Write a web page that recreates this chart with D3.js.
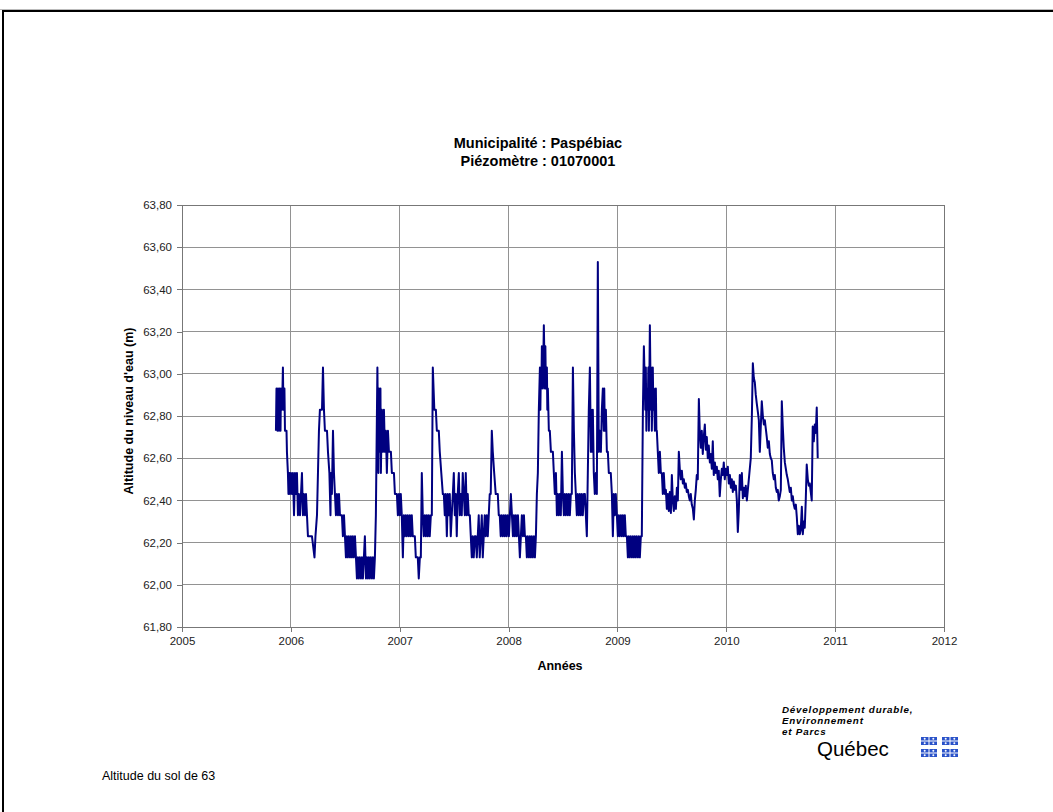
<!DOCTYPE html>
<html>
<head>
<meta charset="utf-8">
<script src="https://cdn.jsdelivr.net/npm/d3@7"></script>
<style>
  body { margin: 0; background: #fff; }
  svg text { font-family: "Liberation Sans", Arial, sans-serif; }
</style>
</head>
<body>
<div id="fig"></div>
<script>
// titles and labels
var titre1 = "Municipalité : Paspébiac";
var titre2 = "Piézomètre : 01070001";
var titreX = "Années";
var titreY = "Altitude du niveau d'eau (m)";
var noteSol = "Altitude du sol de 63";
var ministere = ["Développement durable,", "Environnement", "et Parcs"];

var anneesTicks = [2005, 2006, 2007, 2008, 2009, 2010, 2011, 2012];
var niveauxTicks = [61.8, 62.0, 62.2, 62.4, 62.6, 62.8, 63.0, 63.2, 63.4, 63.6, 63.8];

// water level readings [decimal year, altitude m]
var serie2005 = [[2005.863,62.73],[2005.868,62.93],[2005.877,62.73],[2005.882,62.93],[2005.891,62.73],[2005.895,62.93],
  [2005.905,62.73],[2005.909,62.93],[2005.918,62.83],[2005.923,62.93],[2005.927,63.03],[2005.932,62.83],[2005.941,62.93],
  [2005.946,62.73],[2005.960,62.73],[2005.964,62.63],[2005.973,62.53],[2005.978,62.43],[2005.987,62.53],[2005.992,62.43]];

var serie2006 = [[2006.001,62.53],[2006.010,62.43],[2006.019,62.53],[2006.029,62.33],[2006.038,62.53],[2006.047,62.43],
  [2006.056,62.53],[2006.065,62.33],[2006.074,62.43],[2006.084,62.33],[2006.093,62.43],[2006.102,62.53],[2006.111,62.33],
  [2006.120,62.43],[2006.130,62.33],[2006.139,62.43],[2006.148,62.33],[2006.157,62.23],[2006.194,62.23],[2006.217,62.13],
  [2006.226,62.23],[2006.240,62.33],[2006.249,62.53],[2006.258,62.73],[2006.267,62.83],[2006.286,62.83],[2006.295,63.03],
  [2006.304,62.83],[2006.313,62.73],[2006.332,62.73],[2006.341,62.63],[2006.354,62.53],[2006.364,62.33],[2006.368,62.53],
  [2006.377,62.43],[2006.387,62.73],[2006.396,62.53],[2006.405,62.43],[2006.414,62.33],[2006.423,62.43],[2006.433,62.33],
  [2006.442,62.43],[2006.451,62.33],[2006.469,62.33],[2006.478,62.23],[2006.488,62.33],[2006.497,62.23],[2006.506,62.13],
  [2006.515,62.23],[2006.524,62.13],[2006.533,62.23],[2006.543,62.13],[2006.552,62.23],[2006.561,62.13],[2006.570,62.23],
  [2006.579,62.13],[2006.589,62.23],[2006.598,62.13],[2006.607,62.03],[2006.616,62.13],[2006.625,62.03],[2006.634,62.13],
  [2006.644,62.03],[2006.653,62.13],[2006.662,62.03],[2006.671,62.13],[2006.680,62.23],[2006.690,62.03],[2006.699,62.13],
  [2006.708,62.03],[2006.717,62.13],[2006.726,62.03],[2006.735,62.13],[2006.745,62.03],[2006.754,62.13],[2006.763,62.03],
  [2006.772,62.13],[2006.781,62.33],[2006.795,63.03],[2006.804,62.53],[2006.809,62.93],[2006.818,62.63],[2006.823,62.93],
  [2006.827,62.53],[2006.836,62.83],[2006.846,62.63],[2006.855,62.83],[2006.864,62.63],[2006.873,62.73],[2006.882,62.53],
  [2006.892,62.73],[2006.901,62.63],[2006.919,62.63],[2006.928,62.53],[2006.947,62.53],[2006.956,62.43],[2006.974,62.43],
  [2006.983,62.33],[2006.993,62.43]];

var serie2007 = [[2007.001,62.33],[2007.010,62.43],[2007.019,62.33],[2007.029,62.13],[2007.038,62.33],[2007.047,62.23],
  [2007.056,62.33],[2007.065,62.23],[2007.074,62.33],[2007.084,62.23],[2007.093,62.33],[2007.102,62.23],[2007.111,62.33],
  [2007.120,62.23],[2007.139,62.23],[2007.148,62.13],[2007.166,62.13],[2007.175,62.03],[2007.185,62.13],[2007.194,62.13],
  [2007.203,62.53],[2007.212,62.33],[2007.221,62.23],[2007.231,62.33],[2007.240,62.23],[2007.249,62.33],[2007.258,62.23],
  [2007.267,62.33],[2007.276,62.23],[2007.286,62.33],[2007.295,62.33],[2007.304,63.03],[2007.318,62.83],[2007.332,62.83],
  [2007.341,62.73],[2007.359,62.73],[2007.368,62.63],[2007.382,62.53],[2007.396,62.43],[2007.405,62.43],[2007.414,62.33],
  [2007.423,62.43],[2007.433,62.23],[2007.442,62.43],[2007.451,62.33],[2007.460,62.43],[2007.469,62.23],[2007.478,62.33],
  [2007.488,62.43],[2007.497,62.53],[2007.506,62.33],[2007.515,62.43],[2007.524,62.23],[2007.533,62.43],[2007.543,62.53],
  [2007.552,62.33],[2007.561,62.43],[2007.570,62.33],[2007.579,62.53],[2007.589,62.43],[2007.598,62.33],[2007.607,62.53],
  [2007.616,62.33],[2007.625,62.43],[2007.634,62.33],[2007.644,62.33],[2007.653,62.23],[2007.662,62.13],[2007.671,62.23],
  [2007.680,62.13],[2007.690,62.23],[2007.699,62.23],[2007.708,62.13],[2007.717,62.23],[2007.726,62.33],[2007.735,62.13],
  [2007.745,62.23],[2007.754,62.33],[2007.763,62.13],[2007.772,62.23],[2007.781,62.33],[2007.790,62.23],[2007.800,62.33],
  [2007.809,62.23],[2007.818,62.33],[2007.827,62.43],[2007.836,62.43],[2007.846,62.73],[2007.855,62.63],[2007.868,62.53],
  [2007.882,62.43],[2007.901,62.43],[2007.910,62.33],[2007.919,62.33],[2007.928,62.23],[2007.937,62.33],[2007.947,62.23],
  [2007.956,62.33],[2007.965,62.23],[2007.974,62.33],[2007.983,62.23],[2007.993,62.33]];

var serie2008 = [[2008.003,62.23],[2008.012,62.33],[2008.021,62.43],[2008.031,62.33],[2008.040,62.23],[2008.049,62.33],
  [2008.058,62.23],[2008.067,62.33],[2008.076,62.23],[2008.086,62.33],[2008.095,62.23],[2008.104,62.13],[2008.113,62.23],
  [2008.122,62.33],[2008.132,62.23],[2008.141,62.33],[2008.150,62.23],[2008.159,62.23],[2008.168,62.13],[2008.177,62.23],
  [2008.187,62.13],[2008.196,62.23],[2008.205,62.13],[2008.214,62.23],[2008.223,62.13],[2008.233,62.23],[2008.242,62.13],
  [2008.251,62.23],[2008.260,62.43],[2008.269,62.53],[2008.278,62.83],[2008.288,63.03],[2008.292,62.83],[2008.297,63.03],
  [2008.301,62.93],[2008.306,63.13],[2008.315,62.93],[2008.324,63.23],[2008.334,62.93],[2008.338,63.13],[2008.343,62.93],
  [2008.352,63.03],[2008.356,62.83],[2008.361,62.93],[2008.370,62.73],[2008.379,62.73],[2008.389,62.63],[2008.407,62.63],
  [2008.416,62.53],[2008.425,62.43],[2008.435,62.53],[2008.444,62.33],[2008.453,62.43],[2008.462,62.33],[2008.471,62.43],
  [2008.480,62.33],[2008.490,62.63],[2008.499,62.43],[2008.508,62.33],[2008.517,62.43],[2008.526,62.33],[2008.535,62.43],
  [2008.545,62.33],[2008.554,62.43],[2008.563,62.33],[2008.572,62.43],[2008.581,62.43],[2008.591,63.03],[2008.600,62.73],
  [2008.609,62.53],[2008.618,62.43],[2008.627,62.33],[2008.636,62.43],[2008.646,62.33],[2008.655,62.43],[2008.664,62.33],
  [2008.673,62.43],[2008.682,62.33],[2008.692,62.43],[2008.701,62.43],[2008.710,62.33],[2008.719,62.23],[2008.728,62.53],
  [2008.737,62.83],[2008.747,63.03],[2008.756,62.63],[2008.760,62.83],[2008.765,62.63],[2008.774,62.83],[2008.783,62.53],
  [2008.792,62.43],[2008.802,62.53],[2008.811,62.43],[2008.820,63.53],[2008.829,62.63],[2008.838,62.73],[2008.848,62.63],
  [2008.857,62.83],[2008.866,62.93],[2008.875,62.73],[2008.879,62.93],[2008.884,62.73],[2008.894,62.83],[2008.903,62.63],
  [2008.912,62.63],[2008.921,62.53],[2008.939,62.53],[2008.949,62.43],[2008.958,62.23],[2008.967,62.43],[2008.976,62.33],
  [2008.985,62.43],[2008.995,62.33]];

var serie2009 = [[2009.004,62.23],[2009.013,62.33],[2009.022,62.23],[2009.032,62.33],[2009.041,62.23],[2009.050,62.33],
  [2009.059,62.23],[2009.068,62.33],[2009.077,62.23],[2009.087,62.23],[2009.096,62.13],[2009.105,62.23],[2009.114,62.13],
  [2009.123,62.23],[2009.133,62.13],[2009.142,62.23],[2009.151,62.13],[2009.160,62.23],[2009.169,62.13],[2009.178,62.23],
  [2009.188,62.13],[2009.197,62.23],[2009.206,62.13],[2009.215,62.23],[2009.224,62.23],[2009.234,62.83],[2009.243,63.13],
  [2009.252,62.93],[2009.256,62.83],[2009.261,63.03],[2009.266,62.73],[2009.270,62.93],[2009.279,62.83],[2009.284,63.03],
  [2009.289,62.73],[2009.298,63.23],[2009.307,62.83],[2009.311,63.03],[2009.316,62.73],[2009.325,63.03],[2009.330,62.83],
  [2009.335,62.93],[2009.344,62.73],[2009.353,62.93],[2009.358,62.73],[2009.362,62.73],[2009.371,62.63],[2009.380,62.53],
  [2009.390,62.63],[2009.399,62.53],[2009.408,62.53],[2009.417,62.43],[2009.426,62.53],[2009.436,62.43],[2009.445,62.45],
  [2009.454,62.36],[2009.463,62.43],[2009.472,62.35],[2009.481,62.44],[2009.491,62.34],[2009.500,62.52],[2009.509,62.40],
  [2009.518,62.35],[2009.527,62.42],[2009.537,62.36],[2009.546,62.46],[2009.555,62.40],[2009.564,62.63],[2009.573,62.55],
  [2009.582,62.50],[2009.592,62.54],[2009.601,62.48],[2009.610,62.50],[2009.619,62.46],[2009.628,62.48],[2009.637,62.44],
  [2009.647,62.45],[2009.656,62.42],[2009.665,62.40],[2009.674,62.43],[2009.683,62.38],[2009.693,62.36],[2009.702,62.31],
  [2009.711,62.40],[2009.720,62.45],[2009.729,62.52],[2009.738,62.50],[2009.748,62.88],[2009.757,62.72],[2009.766,62.65],
  [2009.775,62.73],[2009.784,62.62],[2009.793,62.70],[2009.803,62.76],[2009.812,62.64],[2009.821,62.70],[2009.830,62.60],
  [2009.839,62.66],[2009.849,62.58],[2009.858,62.62],[2009.867,62.55],[2009.876,62.68],[2009.885,62.52],[2009.895,62.58],
  [2009.904,62.53],[2009.913,62.56],[2009.922,62.50],[2009.931,62.54],[2009.940,62.42],[2009.950,62.50],[2009.959,62.55],
  [2009.968,62.52],[2009.977,62.58],[2009.986,62.50],[2009.996,62.55]];

var serie2010 = [[2010.005,62.52],[2010.014,62.56],[2010.023,62.48],[2010.033,62.52],[2010.042,62.46],[2010.051,62.50],
  [2010.060,62.44],[2010.069,62.49],[2010.078,62.45],[2010.088,62.47],[2010.097,62.40],[2010.106,62.25],[2010.115,62.35],
  [2010.124,62.52],[2010.134,62.45],[2010.143,62.53],[2010.152,62.41],[2010.161,62.46],[2010.170,62.42],[2010.179,62.47],
  [2010.189,62.40],[2010.198,62.45],[2010.207,62.50],[2010.216,62.55],[2010.225,62.60],[2010.235,62.80],[2010.244,63.05],
  [2010.253,62.98],[2010.262,62.96],[2010.271,62.90],[2010.280,62.86],[2010.290,62.82],[2010.299,62.78],[2010.308,62.63],
  [2010.317,62.75],[2010.326,62.87],[2010.336,62.80],[2010.345,62.76],[2010.354,62.78],[2010.363,62.74],[2010.372,62.70],
  [2010.381,62.65],[2010.391,62.68],[2010.400,62.62],[2010.409,62.60],[2010.418,62.59],[2010.427,62.53],[2010.437,62.50],
  [2010.446,62.52],[2010.455,62.46],[2010.464,62.44],[2010.473,62.45],[2010.482,62.40],[2010.492,62.42],[2010.501,62.45],
  [2010.510,62.87],[2010.519,62.75],[2010.528,62.65],[2010.538,62.58],[2010.547,62.55],[2010.556,62.52],[2010.565,62.50],
  [2010.574,62.47],[2010.583,62.44],[2010.593,62.46],[2010.602,62.40],[2010.611,62.42],[2010.620,62.38],[2010.629,62.36],
  [2010.639,62.38],[2010.648,62.32],[2010.657,62.24],[2010.666,62.28],[2010.675,62.24],[2010.684,62.26],[2010.694,62.37],
  [2010.703,62.24],[2010.712,62.30],[2010.721,62.27],[2010.730,62.40],[2010.739,62.57],[2010.749,62.50],[2010.758,62.47],
  [2010.767,62.48],[2010.776,62.44],[2010.785,62.40],[2010.794,62.75],[2010.804,62.68],[2010.813,62.76],[2010.822,62.72],
  [2010.831,62.84],[2010.840,62.60]];

var mesures = [].concat(serie2005, serie2006, serie2007, serie2008, serie2009, serie2010);

// set the dimensions and margins of the graph
var margin = { top: 205, right: 109, bottom: 185, left: 182 },
    width = 944 - margin.left,
    height = 627 - margin.top;

var svg = d3.select("#fig")
  .append("svg")
  .attr("width", 1053)
  .attr("height", 812);

// page frame
svg.append("line")
  .attr("x1", 0).attr("x2", 1053)
  .attr("y1", 9.5).attr("y2", 9.5)
  .attr("stroke", "#bbb");

svg.append("rect")
  .attr("x", 3)
  .attr("y", 11)
  .attr("width", 1070)
  .attr("height", 820)
  .attr("fill", "none")
  .attr("stroke", "#000")
  .attr("stroke-width", 2);

var g = svg.append("g")
  .attr("transform", "translate(" + margin.left + "," + margin.top + ")");

var x = d3.scaleLinear()
  .domain([2005, 2012])
  .range([0, width]);

var y = d3.scaleLinear()
  .domain([61.8, 63.8])
  .range([height, 0]);

var fr = d3.formatLocale({ decimal: ",", thousands: " ", grouping: [3], currency: ["", " $"] });

// grid lines
g.append("g")
  .selectAll("line")
  .data(niveauxTicks)
  .enter()
  .append("line")
    .attr("x1", 0)
    .attr("x2", width)
    .attr("y1", function(d) { return y(d); })
    .attr("y2", function(d) { return y(d); })
    .attr("stroke", "#929292")
    .attr("stroke-width", 1)
    .attr("shape-rendering", "crispEdges");

g.append("g")
  .selectAll("line")
  .data(anneesTicks)
  .enter()
  .append("line")
    .attr("x1", function(d) { return x(d); })
    .attr("x2", function(d) { return x(d); })
    .attr("y1", 0)
    .attr("y2", height)
    .attr("stroke", "#929292")
    .attr("stroke-width", 1)
    .attr("shape-rendering", "crispEdges");

// plot frame
g.append("rect")
  .attr("width", width)
  .attr("height", height)
  .attr("fill", "none")
  .attr("stroke", "#777")
  .attr("stroke-width", 1)
  .attr("shape-rendering", "crispEdges");

// Add X axis
var xAxis = g.append("g")
  .attr("transform", "translate(0," + height + ")")
  .call(d3.axisBottom(x).tickValues(anneesTicks).tickFormat(d3.format("d")).tickSizeOuter(0).tickSize(5).tickPadding(5));

// Add Y axis
var yAxis = g.append("g")
  .call(d3.axisLeft(y).tickValues(niveauxTicks).tickFormat(fr.format(".2f")).tickSizeOuter(0).tickSize(5).tickPadding(5));

[xAxis, yAxis].forEach(function(a) {
  a.select(".domain").remove();
  a.selectAll("line").attr("stroke", "#777").attr("shape-rendering", "crispEdges");
  a.selectAll("text")
    .style("font-size", "11.5px")
    .attr("fill", "#222");
});

// the series
var line = d3.line()
  .x(function(d) { return x(d[0]); })
  .y(function(d) { return y(d[1]); });

g.append("path")
  .datum(mesures)
  .attr("d", line)
  .attr("fill", "none")
  .attr("stroke", "#000080")
  .attr("stroke-width", 2)
  .attr("stroke-linejoin", "round");

// titles
svg.append("text")
  .attr("x", 538)
  .attr("y", 148)
  .attr("text-anchor", "middle")
  .style("font-size", "14.5px")
  .style("font-weight", "bold")
  .text(titre1);

svg.append("text")
  .attr("x", 538)
  .attr("y", 166)
  .attr("text-anchor", "middle")
  .style("font-size", "14.5px")
  .style("font-weight", "bold")
  .text(titre2);

g.append("text")
  .attr("x", (x(2005) + x(2012)) / 2 - 3)
  .attr("y", height + 43)
  .attr("text-anchor", "middle")
  .style("font-size", "12.5px")
  .style("font-weight", "bold")
  .text(titreX);

g.append("text")
  .attr("transform", "translate(-49," + (height / 2 - 5) + ") rotate(-90)")
  .attr("text-anchor", "middle")
  .style("font-size", "12.5px")
  .style("font-weight", "bold")
  .text(titreY);

// footnote
svg.append("text")
  .attr("x", 102)
  .attr("y", 780)
  .style("font-size", "12.5px")
  .text(noteSol);

// ministry logo
var logo = svg.append("g").attr("transform", "translate(782,0)");

logo.selectAll("text.min")
  .data(ministere)
  .enter()
  .append("text")
    .attr("class", "min")
    .attr("x", 0)
    .attr("y", function(d, i) { return 713 + i * 11; })
    .style("font-size", "9.8px")
    .style("letter-spacing", "0.8px")
    .style("font-weight", "bold")
    .style("font-style", "italic")
    .text(function(d) { return d; });

logo.append("text")
  .attr("x", 35)
  .attr("y", 756)
  .style("font-size", "20.5px")
  .text("Québec");

// little flags, 2 x 2
var drapeaux = [[0, 0], [1, 0], [0, 1], [1, 1]];
var fl = logo.selectAll("g.drapeau")
  .data(drapeaux)
  .enter()
  .append("g")
    .attr("class", "drapeau")
    .attr("transform", function(d) { return "translate(" + (139 + d[0] * 21) + "," + (737 + d[1] * 12) + ")"; });

fl.append("rect")
  .attr("width", 16)
  .attr("height", 8)
  .attr("fill", "#2a52c9");

fl.append("rect")
  .attr("x", 7.5)
  .attr("width", 1)
  .attr("height", 8)
  .attr("fill", "#fff");

fl.append("rect")
  .attr("y", 3.5)
  .attr("width", 16)
  .attr("height", 1)
  .attr("fill", "#fff");

// tiny fleur-de-lis dots in each quarter
fl.selectAll("circle")
  .data([[3.7, 1.8], [12.3, 1.8], [3.7, 6.2], [12.3, 6.2]])
  .enter()
  .append("circle")
    .attr("cx", function(d) { return d[0]; })
    .attr("cy", function(d) { return d[1]; })
    .attr("r", 1)
    .attr("fill", "#fff");
</script>
</body>
</html>
